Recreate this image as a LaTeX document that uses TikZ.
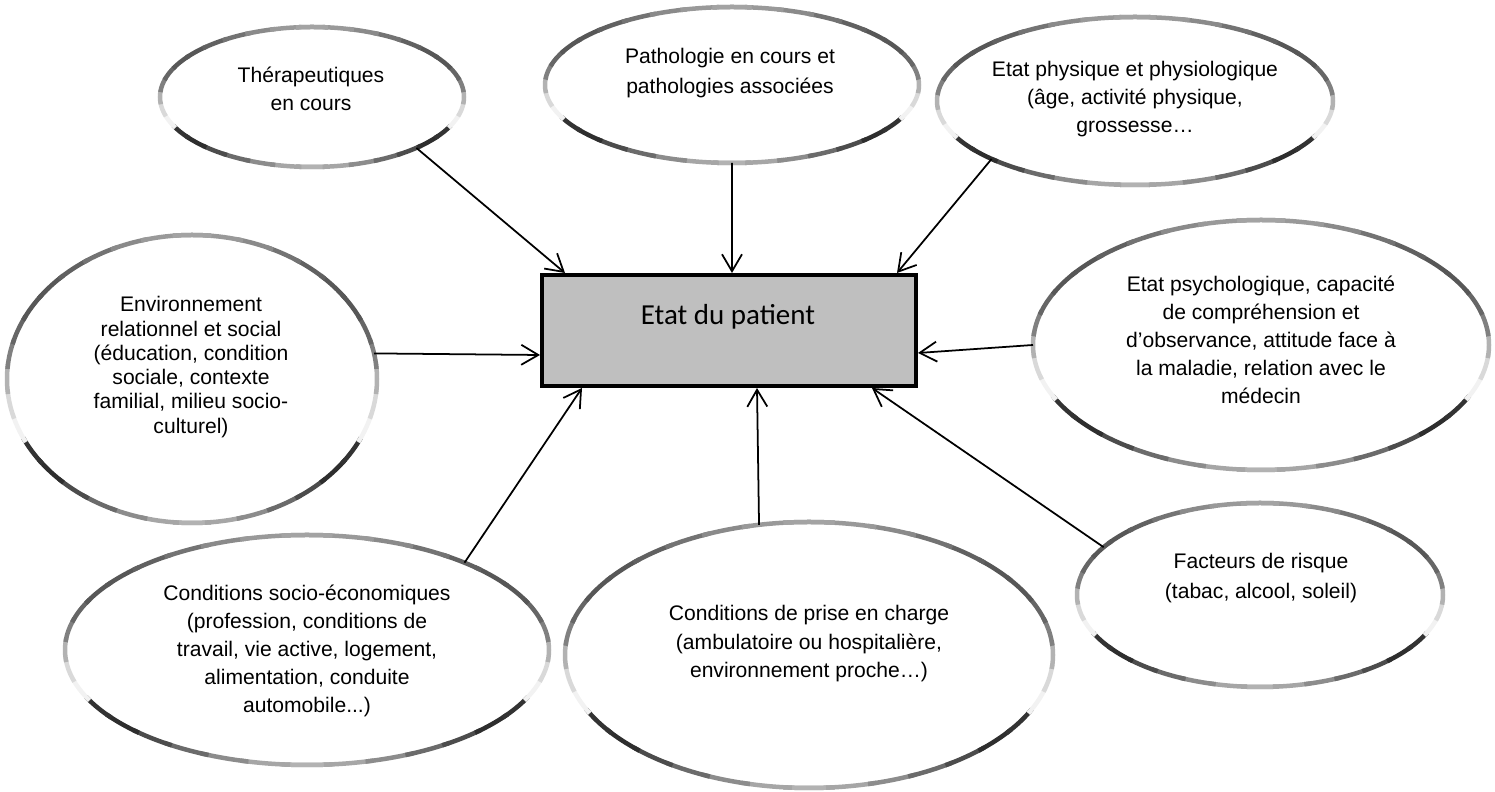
\documentclass[tikz,border=0pt]{standalone}
\usepackage{fontspec}
\setmainfont{Liberation Sans}
\newfontfamily\calibri{Carlito}
\usetikzlibrary{shapes.geometric, arrows.meta}

% ellipse with a shaded (metal-like) outline: name, cx, cy, rx, ry
\newcommand\bulle[5]{%
  \node[ellipse, inner sep=0pt, outer sep=0pt, minimum width=0.4mm*#4, minimum height=0.4mm*#5] (#1) at (#2,#3) {};
  \foreach \a/\d in {-90/30,-80/35,-70/45,-60/58,-50/70,-40/82,-30/80,-20/5,-10/15,0/30,10/50,20/60,30/66,40/66,50/62,60/55,70/46,80/40,90/36}{
    \draw[anneau, black!\d] (#2,#3) ++(\a-6:#4 and #5) arc[start angle=\a-6, end angle=\a+6, x radius=#4, y radius=#5];
    \draw[anneau, black!\d] (#2,#3) ++(174-\a:#4 and #5) arc[start angle=174-\a, end angle=186-\a, x radius=#4, y radius=#5];
  }%
}

\begin{document}
\begin{tikzpicture}[x=0.2mm, y=0.2mm,
  anneau/.style={line width=0.9mm},
  txt/.style={align=center, font=\fontsize{12}{15.9}\selectfont},
  fleche/.style={line width=1pt, -{Straight Barb[length=3.4mm, width=4mm]}}]
\useasboundingbox (0,0) rectangle (1495,792);

% central box
\node[draw, line width=0.8mm, fill=black!25, minimum width=74.8mm, minimum height=22.2mm, inner sep=0pt] (etat) at (729,461.5) {};
\node[font=\calibri\fontsize{16.5}{20}\selectfont] (etattxt) at (728,475) {Etat du patient};

% the eight factors
\bulle{ther}{312}{695}{152}{70}
\bulle{patho}{732}{707}{187}{78}
\bulle{phys}{1135}{691}{198}{84}
\bulle{env}{192}{413}{185}{144}
\bulle{psych}{1261}{447}{228}{125}
\bulle{socio}{307}{142}{242}{115}
\bulle{prise}{809}{137}{244}{133}
\bulle{risque}{1260}{197}{183}{92}

\node[txt] (thertxt) at (311,703) {Thérapeutiques\\en cours};
\node[txt, font=\fontsize{12}{17}\selectfont] (pathotxt) at (730,719) {Pathologie en cours et\\pathologies associées};
\node[txt] (phystxt) at (1135,693) {Etat physique et physiologique\\(âge, activité physique,\\grossesse…};
\node[txt, font=\fontsize{12}{13.8}\selectfont] (envtxt) at (191,425) {Environnement\\relationnel et social\\(éducation, condition\\sociale, contexte\\familial, milieu socio-\\culturel)};
\node[txt] (psychtxt) at (1261,452) {Etat psychologique, capacité\\de compréhension et\\d’observance, attitude face à\\la maladie, relation avec le\\médecin};
\node[txt] (sociotxt) at (307,141) {Conditions socio-économiques\\(profession, conditions de\\travail, vie active, logement,\\alimentation, conduite\\automobile...)};
\node[txt, font=\fontsize{12}{16.2}\selectfont] (prisetxt) at (809,148) {Conditions de prise en charge\\(ambulatoire ou hospitalière,\\environnement proche…)};
\node[txt, font=\fontsize{12}{17}\selectfont] (risquetxt) at (1261,214) {Facteurs de risque\\(tabac, alcool, soleil)};

% arrows towards the patient
\draw[fleche] (ther.-26) -- ([xshift=5mm]etat.north west);
\draw[fleche] (patho.south) -- ([xshift=0.6mm]etat.north);
\draw[fleche] (phys.202) -- ([xshift=-4.2mm]etat.north east);
\draw[fleche] (env.8) -- ([yshift=-4.9mm]etat.west);
\draw[fleche] (psych.west) -- ([yshift=-4.5mm]etat.east);
\draw[fleche] (socio.29) -- ([xshift=8.4mm]etat.south west);
\draw[fleche] (prise.111) -- ([xshift=5.6mm]etat.south);
\draw[fleche] (risque.163) -- ([xshift=-9.2mm]etat.south east);
\end{tikzpicture}
\end{document}
